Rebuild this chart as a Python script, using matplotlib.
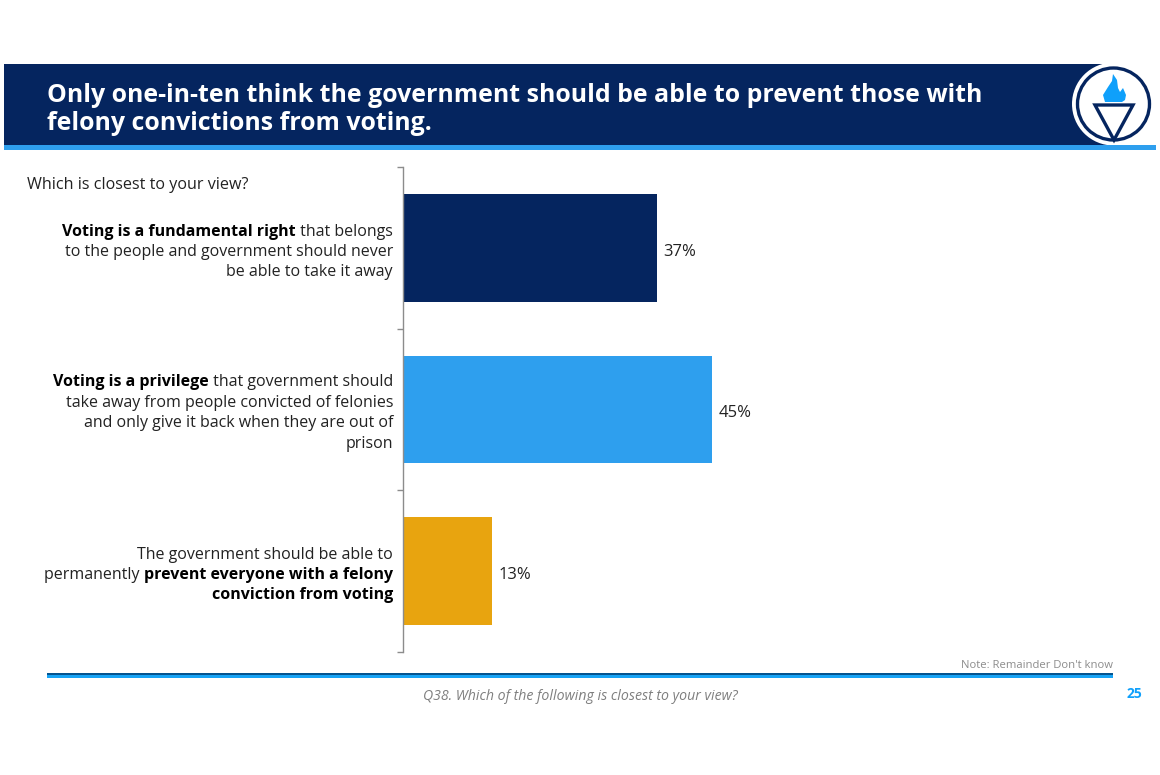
import matplotlib
matplotlib.use('Agg')
from matplotlib import pyplot as plt
from matplotlib.patches import Rectangle, Circle, Polygon

plt.rcParams['font.family'] = ['Open Sans', 'DejaVu Sans']

NAVY = '#05255F'
BLUE = '#2E9FEE'
GOLD = '#E8A40F'

title_lines = ['Only one-in-ten think the government should be able to prevent those with',
               'felony convictions from voting.']
question = 'Which is closest to your view?'
values = [37, 45, 13]
bar_colors = [NAVY, BLUE, GOLD]
# each row is a list of (text, bold) pieces
cat_labels = [
    [[('Voting is a fundamental right', True), (' that belongs', False)],
     [('to the people and government should never', False)],
     [('be able to take it away', False)]],
    [[('Voting is a privilege', True), (' that government should', False)],
     [('take away from people convicted of felonies', False)],
     [('and only give it back when they are out of', False)],
     [('prison', False)]],
    [[('The government should be able to', False)],
     [('permanently ', False), ('prevent everyone with a felony', True)],
     [('conviction from voting', True)]],
]
note = "Note: Remainder Don't know"
footer = 'Q38. Which of the following is closest to your view?'
page = '25'

W, H = 1160, 775
fig = plt.figure(figsize=(W / 100, H / 100), dpi=100, facecolor='white')

# pixel overlay for the slide furniture
bg = fig.add_axes([0, 0, 1, 1])
bg.set_xlim(0, W)
bg.set_ylim(H, 0)
bg.axis('off')

bg.add_patch(Rectangle((4, 64), 1109, 81, color=NAVY, lw=0))
bg.add_patch(Rectangle((4, 145), 1152, 5, color=BLUE, lw=0, zorder=6))
bg.text(47, 92.5, title_lines[0], color='white', fontsize=17.9, fontweight='bold', va='center_baseline')
bg.text(47, 120.5, title_lines[1], color='white', fontsize=17.9, fontweight='bold', va='center_baseline')

# logo
bg.add_patch(Circle((1113.5, 104), 41.5, color='white', lw=0, zorder=3))
bg.add_patch(Circle((1113.5, 104), 36, fc='white', ec=NAVY, lw=2.4, zorder=4))
bg.add_patch(Polygon([(1105, 102), (1103, 95), (1108, 87), (1112, 81), (1113, 74), (1117, 80), (1118, 88),
                      (1120, 92), (1123, 88), (1126, 95), (1125, 100), (1122, 102)],
                     closed=True, fc='#0FA0FB', ec='none', zorder=5))
bg.add_patch(Polygon([(1095, 105), (1133, 105), (1114, 140)], closed=True, fc='white', ec=NAVY,
                     lw=2.4, zorder=5, joinstyle='miter'))

bg.text(27, 183, question, color='#222222', fontsize=11.6, va='center_baseline')

# footer
bg.add_patch(Rectangle((47, 673), 1066, 2, color='#04548F', lw=0))
bg.add_patch(Rectangle((47, 675), 1066, 3, color='#17A3F5', lw=0))
bg.text(1113, 664, note, color='#8C8C8C', fontsize=8.1, ha='right', va='center_baseline')
bg.text(580, 695, footer, color='#7F7F7F', fontsize=10.2, style='italic', ha='center', va='center_baseline')
bg.text(1134.5, 693, page, color='#0FA0FB', fontsize=10, fontweight='bold', ha='center', va='center_baseline')

# chart
ax = fig.add_axes([403 / W, 1 - 652 / H, 687 / W, 485 / H])
ax.patch.set_alpha(0)
y = range(len(values))
bars = ax.barh(y, values, height=0.667, color=bar_colors)
ax.set_xlim(0, 100)
ax.set_ylim(2.5, -0.5)
ax.set_yticks([-0.5, 0.5, 1.5, 2.5])
ax.set_yticklabels([])
ax.set_xticks([])
ax.tick_params(axis='y', length=4, width=1, color='#8C8C8C')
for s in ['top', 'right', 'bottom']:
    ax.spines[s].set_visible(False)
ax.spines['left'].set_color('#8C8C8C')
ax.spines['left'].set_linewidth(1)
for b, v in zip(bars, values):
    ax.annotate('%d%%' % v, (v, b.get_y() + b.get_height() / 2), xytext=(4.7, -1.2),
                textcoords='offset points', color='#222222', fontsize=12, va='center_baseline')

# category labels, right aligned with mixed weights
renderer = fig.canvas.get_renderer()
label_right = 393
line_h = 20.4
centres = [250, 411, 573]
for rows, cy in zip(cat_labels, centres):
    top = cy - line_h * (len(rows) - 1) / 2
    for i, pieces in enumerate(rows):
        x = label_right
        for txt, bold in reversed(pieces):
            t = bg.text(x, top + i * line_h, txt, color='black' if bold else '#222222', fontsize=11.5,
                        fontweight='bold' if bold else 'normal', ha='right', va='center_baseline')
            x -= t.get_window_extent(renderer).width

fig.savefig('out.png', dpi=100)
